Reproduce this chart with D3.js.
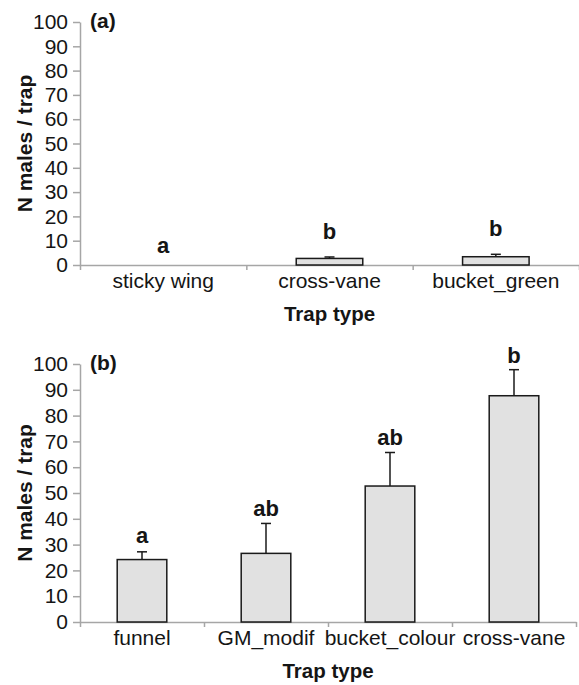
<!DOCTYPE html>
<html>
<head>
<meta charset="utf-8">
<script src="https://cdn.jsdelivr.net/npm/d3@7"></script>
<style>
  html, body { margin: 0; padding: 0; background: #fff; }
  svg { display: block; font-family: "Liberation Sans", Arial, sans-serif; }
  .tick text { fill: #151515; font-size: 21px; }
  .domain, .tick line { stroke: #a6a6a6; stroke-width: 1.5px; }
</style>
</head>
<body>
<div id="chart"></div>
<script>
// ── Data ─────────────────────────────────────────────────────────────────
const A_cats    = ['sticky wing', 'cross-vane', 'bucket_green'];
const A_means   = [0, 2.7, 3.4];
const A_errs    = [0, 0.6, 1.0];
const A_letters = ['a', 'b', 'b'];

const B_cats    = ['funnel', 'GM_modif', 'bucket_colour', 'cross-vane'];
const B_means   = [24.2, 26.6, 52.7, 87.7];
const B_errs    = [3.0, 11.6, 13.0, 10.1];
const B_letters = ['a', 'ab', 'ab', 'b'];

const Y_TICKS = d3.range(0, 101, 10);

const svg = d3.select('#chart').append('svg')
  .attr('width', 579).attr('height', 685);

// ── One bar panel ────────────────────────────────────────────────────────
function panel({ left, top, w, h, cats, means, errs, letters, tag, letterGap }) {
  const g = svg.append('g').attr('transform', `translate(${left},${top})`);

  const y = d3.scaleLinear().domain([0, 100]).range([h, 0]);
  const x = d3.scaleBand().domain(cats).range([0, w])
    .paddingInner(0.6).paddingOuter(0.3);
  const xEdge = d3.scaleLinear().domain([0, cats.length]).range([0, w]);

  // y axis
  g.append('g')
    .call(d3.axisLeft(y).tickValues(Y_TICKS).tickSize(7).tickSizeOuter(0).tickPadding(5));

  // x axis: ticks between categories, labels under each bar
  g.append('g').attr('transform', `translate(0,${h})`)
    .call(d3.axisBottom(xEdge).ticks(cats.length).tickFormat('').tickSize(5).tickSizeOuter(0));
  const xl = g.append('g').attr('transform', `translate(0,${h})`)
    .call(d3.axisBottom(x).tickSize(0).tickPadding(8));
  xl.select('.domain').remove();

  // bars
  g.selectAll('rect.bar').data(cats).join('rect')
    .attr('class', 'bar')
    .attr('x', d => x(d))
    .attr('y', (d, i) => y(means[i]))
    .attr('width', x.bandwidth())
    .attr('height', (d, i) => h - y(means[i]))
    .attr('fill', '#e1e1e1')
    .attr('stroke', '#1a1a1a')
    .attr('stroke-width', 1.5)
    .style('display', (d, i) => means[i] > 0 ? null : 'none');

  // error bars (upper only)
  const eb = g.selectAll('g.err').data(cats).join('g')
    .attr('class', 'err')
    .style('display', (d, i) => errs[i] > 0 ? null : 'none');
  eb.append('line')
    .attr('x1', d => x(d) + x.bandwidth() / 2)
    .attr('x2', d => x(d) + x.bandwidth() / 2)
    .attr('y1', (d, i) => y(means[i]))
    .attr('y2', (d, i) => y(means[i] + errs[i]))
    .attr('stroke', '#1a1a1a').attr('stroke-width', 1.5);
  eb.append('line')
    .attr('x1', d => x(d) + x.bandwidth() / 2 - 5)
    .attr('x2', d => x(d) + x.bandwidth() / 2 + 5)
    .attr('y1', (d, i) => y(means[i] + errs[i]))
    .attr('y2', (d, i) => y(means[i] + errs[i]))
    .attr('stroke', '#1a1a1a').attr('stroke-width', 1.5);

  // significance letters
  g.selectAll('text.sig').data(cats).join('text')
    .attr('class', 'sig')
    .attr('x', d => x(d) + x.bandwidth() / 2)
    .attr('y', (d, i) => y(means[i] + errs[i]) - letterGap[i])
    .attr('text-anchor', 'middle')
    .attr('font-size', 22).attr('font-weight', 'bold').attr('fill', '#151515')
    .text((d, i) => letters[i]);

  // panel tag
  g.append('text')
    .attr('x', 10).attr('y', 6)
    .attr('font-size', 21).attr('font-weight', 'bold').attr('fill', '#151515')
    .text(tag);

  // axis titles
  g.append('text')
    .attr('x', w / 2).attr('y', h + 56)
    .attr('text-anchor', 'middle')
    .attr('font-size', 20.5).attr('font-weight', 'bold').attr('fill', '#151515')
    .text('Trap type');

  g.append('text')
    .attr('transform', `translate(${32 - left},${h / 2}) rotate(-90)`)
    .attr('text-anchor', 'middle')
    .attr('font-size', 21).attr('font-weight', 'bold').attr('fill', '#151515')
    .text('N males / trap');
}

panel({
  left: 80, top: 22, w: 499, h: 243,
  cats: A_cats, means: A_means, errs: A_errs, letters: A_letters,
  tag: '(a)', letterGap: [12, 18, 18.5]
});

panel({
  left: 80, top: 364, w: 496, h: 258,
  cats: B_cats, means: B_means, errs: B_errs, letters: B_letters,
  tag: '(b)', letterGap: [9, 7.5, 7, 7]
});
</script>
</body>
</html>
